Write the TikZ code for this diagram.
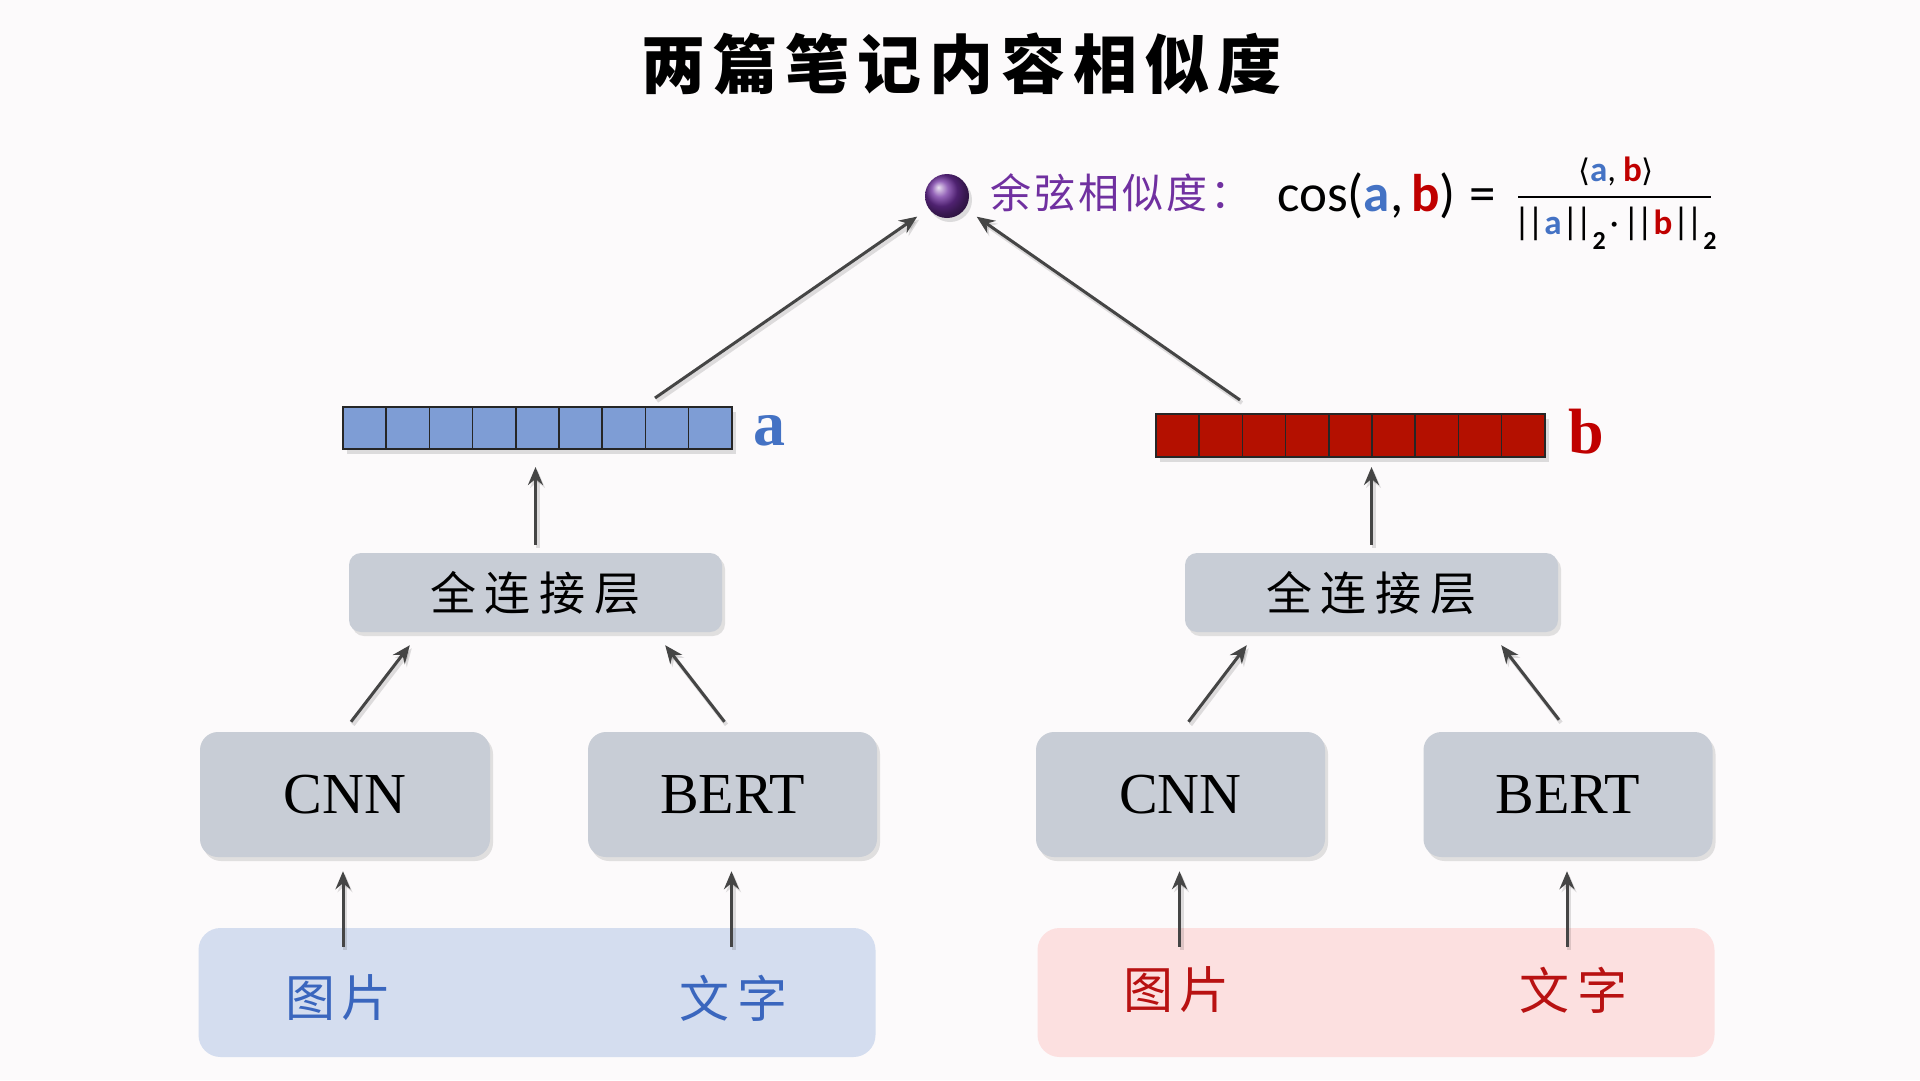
\documentclass[tikz,border=0pt]{standalone}
\usetikzlibrary{shadows,arrows.meta,calc}
\usepackage{fontspec}
\setmainfont{Liberation Serif}
\newfontfamily\cjk{Noto Sans CJK SC}
\newfontfamily\carl{Carlito}
\newfontfamily\dvs{DejaVu Sans}
\definecolor{bgc}{HTML}{FCFAFB}
\definecolor{boxgray}{HTML}{C8CDD6}
\definecolor{cellblue}{HTML}{7E9DD5}
\definecolor{cellred}{HTML}{B41000}
\definecolor{ablue}{HTML}{4472C4}
\definecolor{bred}{HTML}{C00000}
\definecolor{inblue}{HTML}{D4DDEF}
\definecolor{inred}{HTML}{FCE0E0}
\definecolor{txtblue}{HTML}{3A66BE}
\definecolor{txtred}{HTML}{B81212}
\definecolor{purp}{HTML}{7030A0}
\definecolor{arrowgray}{HTML}{454545}
\newcommand\nbar{{\fontsize{38}{42}\selectfont|\kern-4pt|}}
\newcommand\subtwo{\raisebox{-0.42em}{\fontsize{26}{30}\selectfont\bfseries 2}}
\tikzset{
  arr/.style={line width=3pt, draw=arrowgray, -{Stealth[length=18pt,width=15pt,inset=6pt]},
    preaction={draw=black, opacity=0.12, line width=4pt, transform canvas={shift={(2pt,-3pt)}}}},
  gbox/.style={rounded corners=12pt, fill=boxgray, inner sep=0pt,
    drop shadow={shadow xshift=3pt, shadow yshift=-4pt, opacity=0.22}},
  vecbox/.style={inner sep=0pt, outer sep=0pt, draw=black!85, line width=1.8pt,
    drop shadow={shadow xshift=4pt, shadow yshift=-5pt, opacity=0.25}},
  cell/.style={inner sep=0pt, outer sep=0pt, draw=black!85, line width=1.6pt,
    minimum width=43.2pt, minimum height=42pt},
  inbox/.style={rounded corners=22pt, inner sep=0pt, minimum width=677pt, minimum height=129pt},
  intext/.style={font=\cjk\fontsize{50}{56}\selectfont, inner sep=0pt},
  fctext/.style={font=\cjk\fontsize{46}{52}\selectfont},
  nettext/.style={font=\fontsize{58}{64}\selectfont},
  veclabel/.style={font=\bfseries\fontsize{64}{70}\selectfont, inner sep=0pt},
  fracpart/.style={font=\carl\fontsize{35}{39}\selectfont, inner sep=0pt},
}
\begin{document}
\begin{tikzpicture}[x=1pt,y=-1pt]
\useasboundingbox (0,0) rectangle (1920,1080);
\fill[bgc] (0,0) rectangle (1920,1080);

% title
\node[font=\cjk\bfseries\fontsize{64}{70}\selectfont] (title) at (961,64)
  {两\kern8pt 篇\kern8pt 笔\kern8pt 记\kern8pt 内\kern8pt 容\kern8pt 相\kern8pt 似\kern8pt 度};

% ball and formula
\node[circle, minimum size=44pt, inner sep=0pt, shading=ball, ball color=purp,
  drop shadow={shadow xshift=3pt, shadow yshift=-4pt, opacity=0.25}] (ball) at (947,196) {};
\node[font=\cjk\fontsize{41}{46}\selectfont, text=purp, anchor=west, inner sep=0pt] (simlabel) at (990,193)
  {余\kern3pt 弦\kern3pt 相\kern3pt 似\kern3pt 度\kern3pt ：};
\node[font=\carl\fontsize{53}{58}\selectfont, anchor=west, inner sep=0pt] (cosf) at (1277,196)
  {cos(\textbf{\color{ablue}a},\kern8pt\textbf{\color{bred}b})\kern14pt=};
\node[fracpart] (num) at (1616,171)
  {{\dvs\fontsize{31}{35}\selectfont ⟨}\textbf{\color{ablue}a},\kern7pt\textbf{\color{bred}b}{\dvs\fontsize{31}{35}\selectfont ⟩}};
\node[fracpart] (den) at (1615,228)
  {\nbar\textbf{\color{ablue}a}\nbar\subtwo\kern4pt·\kern4pt\nbar\textbf{\color{bred}b}\nbar\subtwo};
\draw[line width=2.2pt] (1518,197) -- (1711,197);

% vectors
\node[vecbox, fill=cellblue, minimum width=389pt, minimum height=42pt] (va) at (537.5,428) {};
\foreach \i in {0,...,8} \node[cell, fill=cellblue] (a\i) at ({343+21.6+43.2*\i},428) {};
\node[veclabel, text=ablue] (alabel) at (769,431) {a};
\node[vecbox, fill=cellred, minimum width=389pt, minimum height=43pt] (vb) at (1350.5,435.5) {};
\foreach \i in {0,...,8} \node[cell, fill=cellred, minimum height=43pt] (b\i) at ({1156+21.6+43.2*\i},435.5) {};
\node[veclabel, text=bred] (blabel) at (1586,432) {b};

% fully connected
\node[gbox, minimum width=373pt, minimum height=79pt, fctext] (fc1) at (535.5,592.5)
  {全\kern9pt 连\kern9pt 接\kern9pt 层};
\node[gbox, minimum width=373pt, minimum height=79pt, fctext] (fc2) at (1371.5,592.5)
  {全\kern9pt 连\kern9pt 接\kern9pt 层};

% networks
\node[gbox, rounded corners=18pt, minimum width=290pt, minimum height=125pt, nettext] (cnn1) at (345,794.5) {CNN};
\node[gbox, rounded corners=18pt, minimum width=289pt, minimum height=125pt, nettext] (bert1) at (732.5,794.5) {BERT};
\node[gbox, rounded corners=18pt, minimum width=289pt, minimum height=125pt, nettext] (cnn2) at (1180.5,794.5) {CNN};
\node[gbox, rounded corners=18pt, minimum width=289pt, minimum height=125pt, nettext] (bert2) at (1568,794.5) {BERT};

% inputs
\node[inbox, fill=inblue] (in1) at (537,992.5) {};
\node[inbox, fill=inred] (in2) at (1376,992.5) {};
\node[intext, text=txtblue] (img1) at (338,998) {图\kern6pt 片};
\node[intext, text=txtblue] (txt1) at (733,998) {文\kern8pt 字};
\node[intext, text=txtred] (img2) at (1176,990) {图\kern6pt 片};
\node[intext, text=txtred] (txt2) at (1573,990) {文\kern8pt 字};

% arrows: inputs -> nets
\draw[arr] ($(in1.north -| cnn1.south)+(-2,19)$) -- ($(cnn1.south)+(-2,14)$);
\draw[arr] ($(in1.north -| bert1.south)+(-1,19)$) -- ($(bert1.south)+(-1,14)$);
\draw[arr] ($(in2.north -| cnn2.south)+(-1,19)$) -- ($(cnn2.south)+(-1,14)$);
\draw[arr] ($(in2.north -| bert2.south)+(-1,19)$) -- ($(bert2.south)+(-1,14)$);

% nets -> fc
\draw[arr] ($(cnn1.north)+(6,-10)$) -- ($(fc1.south west)+(61,13)$);
\draw[arr] ($(bert1.north)+(-8,-10)$) -- ($(fc1.south east)+(-57,13)$);
\draw[arr] ($(cnn2.north)+(8,-10)$) -- ($(fc2.south west)+(62,13)$);
\draw[arr] ($(bert2.north)+(-9,-12)$) -- ($(fc2.south east)+(-57,13)$);

% fc -> vectors
\draw[arr] ($(fc1.north)+(0,-8)$) -- ($(va.south -| fc1.north)+(0,18)$);
\draw[arr] ($(fc2.north)+(0,-8)$) -- ($(vb.south -| fc2.north)+(0,10)$);

% vectors -> ball
\draw[arr, shorten >=14pt] ($(va.north east)+(-77,-9)$) -- (ball);
\draw[arr, shorten >=14pt] ($(vb.north west)+(84,-14)$) -- (ball);
\end{tikzpicture}
\end{document}
